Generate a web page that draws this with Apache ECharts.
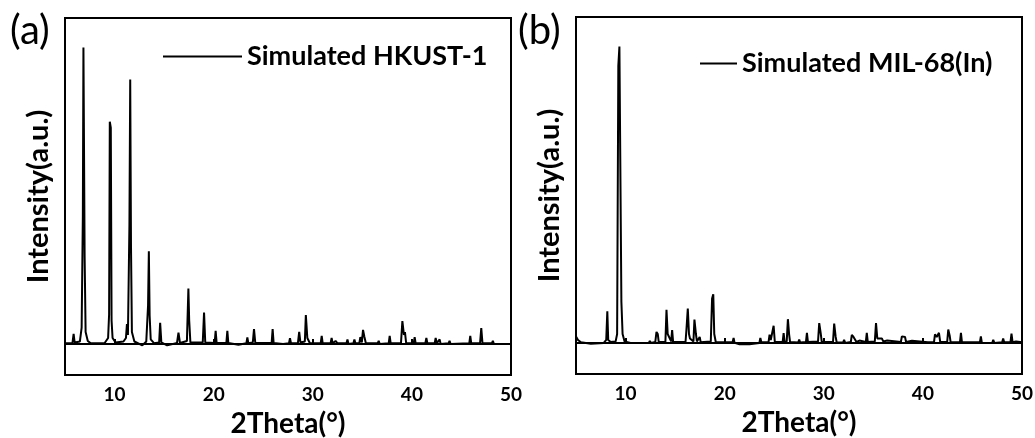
<!DOCTYPE html>
<html>
<head>
<meta charset="utf-8">
<script src="https://cdn.jsdelivr.net/npm/echarts@6/dist/echarts.min.js"></script>
<style>
  html, body { margin: 0; padding: 0; background: #fff; }
  #chart { width: 1035px; height: 438px; }
</style>
</head>
<body>
<div id="chart"></div>
<script>
// XRD patterns: [2theta, intensity], tallest peak = 100
const hkustName = 'Simulated HKUST-1'
const milName = 'Simulated MIL-68(In)'

const hkustPattern = [
  [5.0, 0.2], [5.75, 0.2], [5.87, 3.4], [5.97, 0.5], [6.5, 0.8], [6.68, 5.5], [6.8, 43], [6.86, 100], [6.92, 100],
  [6.98, 29.6], [7.08, 4], [7.3, 1], [7.6, 0.2],
  [9.0, 0.3], [9.35, 2], [9.45, 10], [9.52, 75], [9.62, 73], [9.7, 7.8], [9.8, 2], [10.1, 0.5],
  [10.9, 0.8], [11.15, 2], [11.25, 6.7], [11.35, 3], [11.5, 40], [11.58, 89.2], [11.66, 32.4], [11.75, 4], [12.0, 0.8],
  [12.8, -0.5], [13.2, 0.8], [13.38, 12.9], [13.46, 31.3], [13.54, 9.5], [13.65, 1.5], [14.0, 0.2],
  [14.5, 0.5], [14.6, 7.1], [14.72, 0.5], [15.3, -0.5],
  [16.3, 0.3], [16.45, 3.8], [16.6, 0.3],
  [17.3, 1], [17.45, 18.7], [17.53, 8], [17.65, 0.5],
  [18.9, 0.5], [19.03, 10.6], [19.15, 0.5],
  [20.1, 0.3], [20.2, 4.4], [20.3, 0.3],
  [21.28, 0.3], [21.38, 4.4], [21.48, 0.3],
  [22.5, -0.3], [23.3, 0.2], [23.4, 2.2], [23.5, 0.2],
  [23.95, 0.5], [24.07, 5], [24.2, 0.3],
  [25.85, 0.3], [25.95, 5], [26.05, 0.3],
  [27.0, 0], [27.6, 0.2], [27.7, 1.9], [27.8, 0.2],
  [28.5, 0.3], [28.63, 4.1], [28.75, 0.5], [29.2, 0.8], [29.3, 9.7], [29.45, 2], [29.6, 2], [29.7, 0.3],
  [30.8, 0.2], [30.9, 2.7], [31.0, 0.2], [31.8, 0.2], [31.9, 2], [32.0, 0.2], [32.3, 1], [32.5, 0.2],
  [33.4, 0.2], [33.5, 1.5], [33.6, 0], [34.1, 0.2], [34.2, 1.5], [34.3, 0.2],
  [34.7, 0.3], [34.8, 2.3], [34.95, 0.5], [35.07, 4.7], [35.2, 2.5], [35.35, 0.3],
  [36.55, 0.2], [36.65, 1], [36.75, 0], [37.66, 0.2], [37.76, 2.7], [37.86, 0.2],
  [38.9, 0.3], [39.04, 7.7], [39.2, 3], [39.3, 4], [39.42, 0.3],
  [40.18, 0.2], [40.28, 2.3], [40.38, 0.2], [41.36, 0.2], [41.46, 2], [41.56, 0.2],
  [42.3, 0.2], [42.4, 2], [42.5, 0.2], [42.7, 0.2], [42.8, 1.5], [42.9, 0], [43.7, 0.2], [43.8, 1], [43.9, 0],
  [45.79, 0.2], [45.89, 2.7], [45.99, 0.2], [46.88, 0.3], [47.0, 5.3], [47.12, 0.3],
  [48.07, 0.2], [48.17, 1], [48.27, 0], [48.7, 0], [48.8, 0.5], [48.9, 0], [50, 0]
]

const milPattern = [
  [5.0, 2.2], [5.2, 1], [5.5, 0.2], [6.5, -0.3], [7.8, 0], [8.05, 1], [8.1, 5.4], [8.16, 10.7], [8.25, 1], [8.5, 0.3],
  [9.0, 0.5], [9.15, 3], [9.27, 93.5], [9.38, 100], [9.5, 100], [9.58, 13.8], [9.7, 3], [9.9, 0.5], [10.5, 0],
  [12.35, 0], [12.45, 0.7], [12.55, 0], [13.0, 0.3], [13.12, 3.7], [13.25, 3], [13.35, 0.3],
  [14.02, 0.3], [14.13, 11.2], [14.25, 3], [14.4, 3], [14.6, 0.5], [14.7, 4.3], [14.8, 0.3],
  [16.05, 0.3], [16.14, 4.3], [16.28, 11.6], [16.4, 3], [16.5, 1.5], [16.85, 0.5], [16.95, 7.9], [17.1, 3], [17.2, 0.5],
  [17.38, 0.2], [17.48, 2], [17.58, 0.2],
  [18.6, 0.5], [18.73, 15], [18.85, 16.4], [18.95, 3], [19.1, 0.3],
  [20.8, 0.2], [20.9, 1.7], [21.0, 0], [21.5, -0.5], [22.5, -0.5], [23.5, 0], [23.6, 1.7], [23.7, 0.2],
  [24.43, 0.3], [24.53, 2.8], [24.65, 1], [24.82, 0.5], [24.94, 5.8], [25.06, 0.3],
  [25.85, 0.3], [25.95, 3.3], [26.05, 0.3], [26.26, 0.5], [26.38, 8], [26.5, 3], [26.6, 0.3],
  [27.42, 0.1], [27.52, 1.1], [27.62, 0.1], [28.2, 0.3], [28.3, 3.4], [28.4, 0.3],
  [29.42, 0.5], [29.54, 6.7], [29.7, 3], [29.8, 0.3], [30.93, 0.3], [31.05, 6.5], [31.2, 2], [31.3, 0.2],
  [31.95, 0.1], [32.05, 1], [32.15, 0], [32.73, 0.3], [32.83, 2.7], [33.0, 2], [33.16, 2.5], [33.3, 0.3],
  [33.6, 0.8], [33.8, 0.2], [34.24, 0.3], [34.34, 3.4], [34.44, 0.3],
  [35.15, 0.5], [35.27, 6.7], [35.4, 1.5], [35.86, 1.5], [36.0, 0.5], [36.4, 0.8], [36.6, 0.2],
  [37.78, 0.3], [37.88, 2.2], [38.0, 2], [38.2, 2], [38.3, 0.3], [38.9, 0.7], [39.7, 0.5], [40.5, 0.2],
  [41.12, 0.3], [41.22, 2.9], [41.4, 2], [41.62, 3.4], [41.75, 0.3], [42.45, 0.3], [42.56, 4.5], [42.7, 2.5], [42.8, 0.2],
  [43.74, 0.2], [43.84, 3.4], [43.94, 0.2],
  [45.75, 0.2], [45.85, 2.2], [45.95, 0], [47.0, 0], [47.1, 1], [47.2, 0], [48.0, 0.2], [48.1, 1.5], [48.2, 0.2],
  [48.84, 0.3], [48.94, 3.1], [49.05, 0.2], [49.4, 0.5], [50, 0.2]
]

const panelLabels = ['(a)', '(b)']
const xName = '2Theta(°)'
const yName = 'Intensity(a.u.)'
const xMin = 5
const xMax = 50

const FONT = 'Lato, "Open Sans", sans-serif'

const chart = echarts.init(document.getElementById('chart'), null, { renderer: 'canvas' })

function makeXAxis(gridIndex) {
  return {
    type: 'value',
    gridIndex,
    min: xMin,
    max: xMax,
    splitNumber: 5,
    name: xName,
    nameLocation: 'middle',
    nameGap: 35,
    nameTextStyle: { color: '#000', fontFamily: FONT, fontWeight: 'bold', fontSize: 28 },
    axisLine: { show: true, lineStyle: { color: '#000', width: 2 } },
    axisTick: { show: true, inside: true, length: 5, lineStyle: { color: '#000', width: 2 } },
    axisLabel: { showMinLabel: false, color: '#000', fontFamily: FONT, fontWeight: 'bold', fontSize: 19, margin: 10 },
    splitLine: { show: false }
  }
}

function makeYAxis(gridIndex) {
  return {
    type: 'value',
    gridIndex,
    min: -10.5,
    max: 110,
    name: yName,
    nameLocation: 'middle',
    nameRotate: 90,
    nameGap: 12,
    nameTextStyle: { color: '#000', fontFamily: FONT, fontWeight: 'bold', fontSize: 29 },
    axisLine: { show: false },
    axisTick: { show: false },
    axisLabel: { show: false },
    splitLine: { show: false }
  }
}

const gridBase = { show: true, borderColor: '#000', borderWidth: 2, containLabel: false, outerBoundsMode: 'none' }

const option = {
  backgroundColor: '#fff',
  animation: false,
  grid: [
    Object.assign({ left: 65, top: 18, width: 446, height: 357 }, gridBase),
    Object.assign({ left: 576, top: 17, width: 446, height: 357 }, gridBase)
  ],
  xAxis: [makeXAxis(0), makeXAxis(1)],
  yAxis: [makeYAxis(0), makeYAxis(1)],
  legend: [
    {
      data: [hkustName],
      left: 163,
      top: 43,
      padding: 0,
      icon: 'rect',
      itemWidth: 79,
      itemHeight: 2,
      itemGap: 0,
      textStyle: { color: '#000', fontFamily: FONT, fontWeight: 'bold', fontSize: 27 }
    },
    {
      data: [milName],
      left: 700,
      top: 50,
      padding: 0,
      icon: 'rect',
      itemWidth: 37,
      itemHeight: 2,
      itemGap: 0,
      textStyle: { color: '#000', fontFamily: FONT, fontWeight: 'bold', fontSize: 27 }
    }
  ],
  graphic: [
    { type: 'text', left: 10, top: 11, style: { text: panelLabels[0], fill: '#000', font: '40px ' + FONT } },
    { type: 'text', left: 518, top: 11, style: { text: panelLabels[1], fill: '#000', font: '40px ' + FONT } }
  ],
  series: [
    {
      name: hkustName,
      type: 'line',
      xAxisIndex: 0,
      yAxisIndex: 0,
      data: hkustPattern,
      showSymbol: false,
      lineStyle: { color: '#000', width: 2 },
      itemStyle: { color: '#000' },
      emphasis: { disabled: true }
    },
    {
      name: milName,
      type: 'line',
      xAxisIndex: 1,
      yAxisIndex: 1,
      data: milPattern,
      showSymbol: false,
      lineStyle: { color: '#000', width: 2 },
      itemStyle: { color: '#000' },
      emphasis: { disabled: true }
    }
  ]
}

chart.setOption(option)
</script>
</body>
</html>
